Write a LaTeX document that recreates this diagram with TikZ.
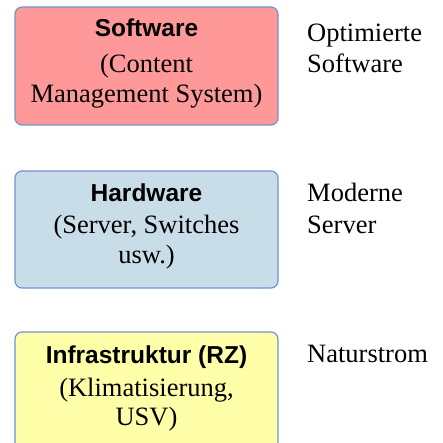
\documentclass[tikz,border=0pt]{standalone}
\usepackage{fontspec}
\setmainfont{Liberation Serif}
\newfontfamily\titlefont{Liberation Sans}
\definecolor{swfill}{HTML}{FF9999}
\definecolor{hwfill}{HTML}{C9DDE9}
\definecolor{rzfill}{HTML}{FFFFAA}
\definecolor{boxline}{HTML}{6E94D0}
\tikzset{
  layerbox/.style={draw=boxline, line width=1.2pt, rounded corners=7pt},
  titletext/.style={anchor=base, inner sep=0pt, font=\titlefont\bfseries\fontsize{24.5pt}{30pt}\selectfont},
  bodytext/.style={anchor=base, inner sep=0pt, font=\fontsize{26.5pt}{31pt}\selectfont},
  sidetext/.style={anchor=base west, inner sep=0pt, font=\fontsize{26.5pt}{31pt}\selectfont}
}
\begin{document}
\begin{tikzpicture}[x=1pt,y=1pt]
\fill[white] (0,0) rectangle (442,-443);
\useasboundingbox (0,0) rectangle (442,-443);
% boxes
\draw[layerbox, fill=swfill] (15,-7) rectangle (278,-125);
\draw[layerbox, fill=hwfill] (15,-171) rectangle (278,-288);
\draw[layerbox, fill=rzfill] (15,-332) rectangle (278,-470);
% software
\node[titletext] (swt) at (146.5,-37) {Software};
\node[bodytext] (sw1) at (146.5,-73) {(Content};
\node[bodytext] (sw2) at (146.5,-103) {Management System)};
% hardware
\node[titletext] (hwt) at (146.5,-202) {Hardware};
\node[bodytext] (hw1) at (146.5,-233) {(Server, Switches};
\node[bodytext] (hw2) at (146.5,-263) {usw.)};
% infrastructure
\node[titletext] (rzt) at (146.5,-363) {Infrastruktur (RZ)};
\node[bodytext] (rz1) at (146.5,-396) {(Klimatisierung,};
\node[bodytext] (rz2) at (146.5,-425) {USV)};
% side texts
\node[sidetext] (s1) at (307,-42) {Optimierte};
\node[sidetext] (s2) at (307,-73) {Software};
\node[sidetext] (s3) at (307,-202) {Moderne};
\node[sidetext] (s4) at (307,-233) {Server};
\node[sidetext] (s5) at (307,-362) {Naturstrom};
\end{tikzpicture}
\end{document}
